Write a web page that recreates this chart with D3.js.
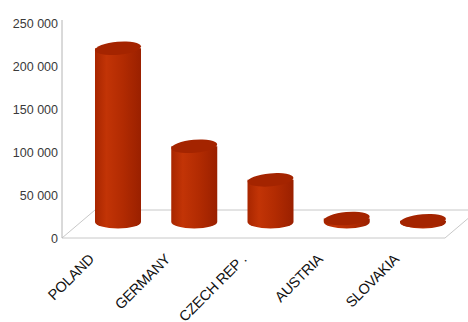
<!DOCTYPE html>
<html lang="en">
  <head>
    <meta charset="utf-8">
    <title>Cylinder chart</title>
    <style>
    body {margin: 0; background: #fff;}
    .axis path {stroke: #b4b4b4;}
    .axis text {font-family: "Liberation Sans", Arial, sans-serif; font-size: 12.5px; fill: #3a3a3a;}
    </style>
  </head>
  <body>
    <div id='my_dataviz'></div>

    <script src="https://d3js.org/d3.v7.min.js"></script>
    <script>
      // data
      var categories = ["POLAND", "GERMANY", "CZECH REP .", "AUSTRIA", "SLOVAKIA"];
      var values = [202000, 88000, 49000, 4000, 1500];
      var yTicks = [0, 50000, 100000, 150000, 200000, 250000];

      var width = 468, height = 322;
      var depth = {dx: 33, dy: -28};   // floor depth
      var barShift = -16;              // bars stand in the middle of the floor
      var rx = 23, ry = 6.5;

      var svg = d3.select("#my_dataviz")
        .append("svg")
          .attr("width", width)
          .attr("height", height);

      var x = d3.scalePoint()
        .domain(categories)
        .range([118, 423]);

      var y = d3.scaleLinear()
        .domain([0, 250000])
        .range([238, 23]);

      var fmt = d3.formatLocale({decimal: ".", thousands: " ", grouping: [3], currency: ["", ""]}).format(",");

      // gradient for the cylinder body
      var grad = svg.append("defs").append("linearGradient")
        .attr("id", "cyl")
        .attr("x1", "0%").attr("x2", "100%");
      grad.append("stop").attr("offset", "0%").attr("stop-color", "#a82600");
      grad.append("stop").attr("offset", "25%").attr("stop-color", "#c23406");
      grad.append("stop").attr("offset", "60%").attr("stop-color", "#b22b02");
      grad.append("stop").attr("offset", "100%").attr("stop-color", "#9a2000");

      // floor
      var x0 = 62, x1 = 445, y0 = y(0);
      svg.append("path")
        .attr("fill", "none")
        .attr("stroke", "#c8c8c8")
        .attr("stroke-width", 1)
        .attr("d", "M" + x0 + "," + y0 + "L" + x1 + "," + y0 +
                   "L" + (x1 + depth.dx) + "," + (y0 + depth.dy) +
                   "L" + (x0 + depth.dx) + "," + (y0 + depth.dy) + "Z");

      // y axis
      svg.append("g")
        .attr("class", "axis")
        .attr("transform", "translate(" + x0 + ",0)")
        .call(d3.axisLeft(y).tickValues(yTicks).tickFormat(fmt).tickSize(0).tickSizeOuter(0).tickPadding(4))
        .select(".domain").attr("d", "M0," + y0 + "V20");

      // cylinders
      var bars = svg.selectAll(".bar")
        .data(categories.map(function(c, i) { return {name: c, value: values[i]}; }))
        .enter().append("g")
          .attr("class", "bar");

      bars.append("path")
        .attr("fill", "url(#cyl)")
        .attr("d", function(d) {
          var cx = x(d.name), yb = y(0) + barShift, yt = y(d.value) + barShift;
          return "M" + (cx - rx) + "," + yt + "L" + (cx - rx) + "," + yb +
                 "A" + rx + "," + ry + " 0 0 0 " + (cx + rx) + "," + yb +
                 "L" + (cx + rx) + "," + yt + "Z";
        });

      bars.append("ellipse")
        .attr("fill", "#a42400")
        .attr("cx", function(d) { return x(d.name); })
        .attr("cy", function(d) { return y(d.value) + barShift; })
        .attr("rx", rx)
        .attr("ry", ry)
        .attr("transform", function(d) {
          return "rotate(-5," + x(d.name) + "," + (y(d.value) + barShift) + ")";
        });

      // category labels
      svg.selectAll(".lab")
        .data(categories)
        .enter().append("text")
          .attr("class", "lab")
          .attr("font-family", "'Liberation Sans', Arial, sans-serif")
          .attr("font-size", "14.5px")
          .attr("letter-spacing", "-0.3px")
          .attr("fill", "#111")
          .attr("text-anchor", "end")
          .attr("transform", function(d) { return "translate(" + (x(d) - 23) + ",260) rotate(-45)"; })
          .text(function(d) { return d; });
    </script>
  </body>
</html>
